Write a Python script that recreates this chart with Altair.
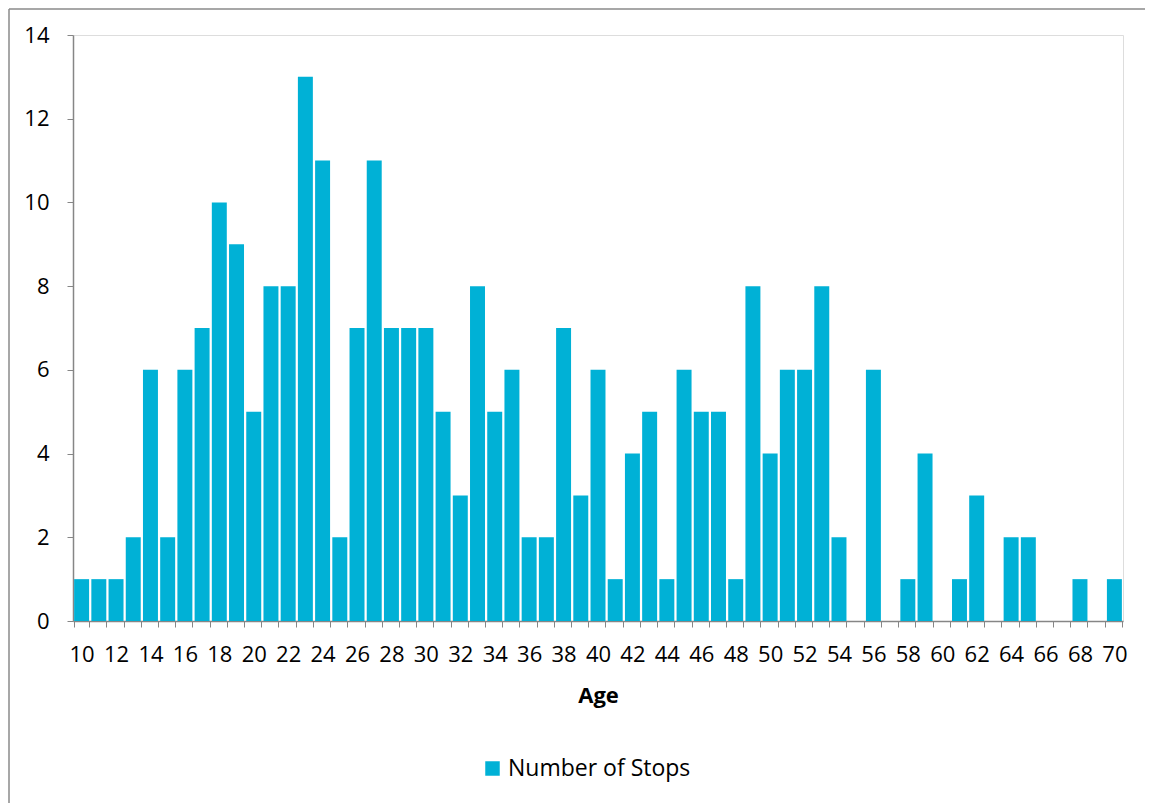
import altair as alt
import pandas as pd

ages = list(range(10, 71))
stops = [1, 1, 1, 2, 6, 2, 6, 7, 10, 9,
         5, 8, 8, 13, 11, 2, 7, 11, 7, 7,
         7, 5, 3, 8, 5, 6, 2, 2, 7, 3,
         6, 1, 4, 5, 1, 6, 5, 5, 1, 8,
         4, 6, 6, 8, 2, 0, 6, 0, 1, 4,
         0, 1, 3, 0, 2, 2, 0, 0, 1, 0,
         1]
series_name = "Number of Stops"
y_ticks = [0, 2, 4, 6, 8, 10, 12, 14]

df = pd.DataFrame({"Age": ages, "Stops": stops, "Series": [series_name] * len(ages)})

FONT = "Open Sans"
FS = 22
W, H = 1050, 586

bars = alt.Chart(df).mark_bar(color="#00B1D6").encode(
    x=alt.X("Age:O",
            scale=alt.Scale(paddingInner=0.13, paddingOuter=0.065),
            axis=alt.Axis(title="Age", labelAngle=0, tickBand="extent",
                          labelExpr="datum.value % 2 == 0 ? datum.label : ''",
                          labelFont=FONT, labelFontSize=FS, labelColor="#000000",
                          labelPadding=17, tickSize=6, tickColor="#868686",
                          domainColor="#868686", domainWidth=1.5,
                          titleFont=FONT, titleFontSize=FS, titleFontWeight="bold",
                          titleColor="#000000", titlePadding=20)),
    y=alt.Y("Stops:Q",
            scale=alt.Scale(domain=[0, 14], nice=False),
            axis=alt.Axis(title=None, values=y_ticks, grid=False,
                          labelFont=FONT, labelFontSize=FS, labelColor="#000000",
                          labelPadding=18, tickSize=6, tickColor="#868686",
                          domainColor="#868686", domainWidth=1.5)),
    color=alt.Color("Series:N",
                    scale=alt.Scale(domain=[series_name], range=["#00B1D6"]),
                    legend=alt.Legend(title=None, orient="none", legendX=408, legendY=722,
                                      symbolType="square", symbolSize=210,
                                      symbolStrokeWidth=0, labelLimit=0,
                                      labelFont=FONT, labelFontSize=23,
                                      labelColor="#000000", padding=0)),
)

one = pd.DataFrame({"a": [0]})
left_edge = alt.Chart(one).mark_rule(color="#8a8a8a", strokeWidth=1.5).encode(
    x=alt.value(-64), y=alt.value(-26), y2=alt.value(H + 200),
)
top_edge = alt.Chart(one).mark_rule(color="#8a8a8a", strokeWidth=1.5).encode(
    x=alt.value(-64), x2=alt.value(W + 22), y=alt.value(-26),
)

chart = alt.layer(left_edge, top_edge, bars).properties(
    width=W, height=H,
    padding={"left": 65, "top": 27, "right": 22, "bottom": 182},
    autosize=alt.AutoSizeParams(type="none"),
).configure_view(stroke=None).configure(background="white")

chart.save("out.html", embed_options={"renderer": "svg", "actions": False})
